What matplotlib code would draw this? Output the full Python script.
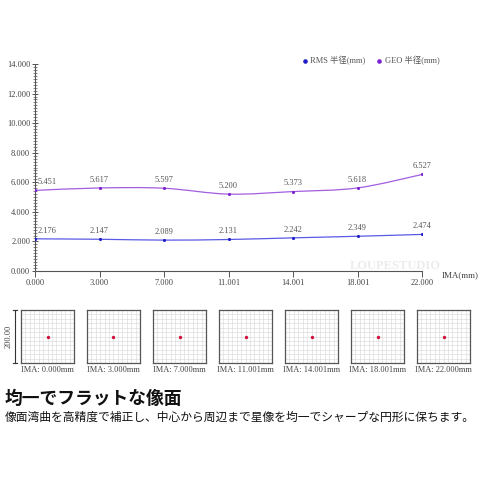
import matplotlib
matplotlib.use('Agg')
import matplotlib.pyplot as plt
from matplotlib.path import Path
from matplotlib.patches import PathPatch
from matplotlib.lines import Line2D
from matplotlib.ticker import MultipleLocator, FuncFormatter
import numpy as np

plt.rcParams['font.family'] = ['Liberation Serif', 'Noto Sans CJK JP']

# data
ima_labels = ['0.000', '3.000', '7.000', '11.001', '14.001', '18.001', '22.000']
rms = [2.176, 2.147, 2.089, 2.131, 2.242, 2.349, 2.474]
geo = [5.451, 5.617, 5.597, 5.200, 5.373, 5.618, 6.527]
spot_labels = ['IMA: 0.000mm', 'IMA: 3.000mm', 'IMA: 7.000mm', 'IMA: 11.001mm',
               'IMA: 14.001mm', 'IMA: 18.001mm', 'IMA: 22.000mm']
series_names = ['RMS 半径(mm)', 'GEO 半径(mm)']
title = '均一でフラットな像面'
subtitle = '像面湾曲を高精度で補正し、中心から周辺まで星像を均一でシャープな円形に保ちます。'

W = H = 480
fig = plt.figure(figsize=(4.8, 4.8), dpi=100)


def box(x0, y0, x1, y1):
    # pixel box (top-left origin) -> figure fraction rect
    return [x0 / W, 1 - y1 / H, (x1 - x0) / W, (y1 - y0) / H]


ax = fig.add_axes(box(35, 64, 422, 271))
xs = np.arange(len(ima_labels))


def smooth_path(x, y):
    pts = np.column_stack([x, y]).astype(float)
    verts = [pts[0]]
    codes = [Path.MOVETO]
    n = len(pts)
    for i in range(n - 1):
        p0 = pts[max(i - 1, 0)]
        p1 = pts[i]
        p2 = pts[i + 1]
        p3 = pts[min(i + 2, n - 1)]
        c1 = p1 + (p2 - p0) / 6.0
        c2 = p2 - (p3 - p1) / 6.0
        verts += [c1, c2, p2]
        codes += [Path.CURVE4] * 3
    return Path(verts, codes)


line_cols = ['#5a5ae6', '#a25ee0']
dot_cols = ['#1f1fc8', '#7a22d0']
for vals, lc, dc in zip([rms, geo], line_cols, dot_cols):
    ax.add_patch(PathPatch(smooth_path(xs, vals), fc='none', ec=lc, lw=0.9, zorder=2))
    ax.scatter(xs, vals, s=5, color=dc, zorder=3, linewidths=0)
    for i, v in enumerate(vals):
        if i == 0:
            ax.annotate(f'{v:.3f}', (xs[i], v), xytext=(2, 3), textcoords='offset points',
                        ha='left', va='bottom', fontsize=6, color='#555555')
        else:
            ax.annotate(f'{v:.3f}', (xs[i], v), xytext=(0, 3), textcoords='offset points',
                        ha='center', va='bottom', fontsize=6, color='#555555')

ax.set_xlim(0, 6)
ax.set_ylim(0, 14)
ax.set_xticks(xs)
ax.set_xticklabels(ima_labels)
ax.yaxis.set_major_locator(MultipleLocator(2))
ax.yaxis.set_minor_locator(MultipleLocator(0.2))
ax.yaxis.set_major_formatter(FuncFormatter(lambda v, p: f'{v:.3f}'))
for s in ['top', 'right']:
    ax.spines[s].set_visible(False)
for s in ['left', 'bottom']:
    ax.spines[s].set_color('#555555')
    ax.spines[s].set_linewidth(0.8)
ax.tick_params(axis='y', which='major', direction='inout', length=5, width=0.7,
               colors='#555555', labelsize=6, labelcolor='#444444', pad=1)
ax.tick_params(axis='y', which='minor', direction='inout', length=3, width=0.5, colors='#555555')
ax.tick_params(axis='x', which='major', direction='out', length=4, width=0.7,
               colors='#555555', labelsize=6, labelcolor='#444444', pad=2)
ax.patch.set_alpha(0)

fig.text(442 / W, 1 - 275 / H, 'IMA(mm)', fontsize=6.5, color='#444444', ha='left', va='center')
fig.text(395 / W, 1 - 266 / H, 'LOUPESTUDIO', fontsize=9, color='#ececec', ha='center',
         va='center', fontweight='bold')

handles = [Line2D([], [], marker='o', ls='none', ms=2.3, color=c) for c in dot_cols]
fig.legend(handles, series_names, loc='center', bbox_to_anchor=(370 / W, 1 - 61 / H),
           ncol=2, frameon=False, fontsize=6, handletextpad=0.2, columnspacing=1.1,
           labelcolor='#555555', handlelength=1)

# spot diagrams
for k, lab in enumerate(spot_labels):
    x0 = 21 + 66 * k
    sax = fig.add_axes(box(x0, 310, x0 + 53, 363))
    sax.set_xlim(-1, 1)
    sax.set_ylim(-1, 1)
    sax.set_xticks(np.linspace(-1, 1, 13))
    sax.set_yticks(np.linspace(-1, 1, 13))
    sax.grid(True, color='#dddddd', lw=0.5)
    sax.tick_params(length=0, labelbottom=False, labelleft=False)
    for s in sax.spines.values():
        s.set_color('#555555')
        s.set_linewidth(0.9)
    sax.scatter([0], [0], s=6, color='#d0103a', zorder=3, linewidths=0)
    fig.text((x0 + 26.5) / W, 1 - 370 / H, lab, fontsize=6, color='#444444',
             ha='center', va='center')

# scale bar
fig.add_artist(Line2D([15 / W, 15 / W], [1 - 310 / H, 1 - 363 / H], color='#333333', lw=0.8))
fig.add_artist(Line2D([13 / W, 17 / W], [1 - 310 / H, 1 - 310 / H], color='#333333', lw=0.8))
fig.add_artist(Line2D([13 / W, 17 / W], [1 - 363 / H, 1 - 363 / H], color='#333333', lw=0.8))
fig.text(9 / W, 1 - 336 / H, '200.00', rotation=90, fontsize=6, color='#444444',
         ha='center', va='center')

fig.text(5 / W, 1 - 399 / H, title, fontsize=12.8, fontweight='bold', color='#111111',
         ha='left', va='center', family=['Noto Sans CJK JP'])
fig.text(5 / W, 1 - 417 / H, subtitle, fontsize=8.5, color='#111111',
         ha='left', va='center', family=['Noto Sans CJK JP'])

fig.savefig('out.png', dpi=100)
